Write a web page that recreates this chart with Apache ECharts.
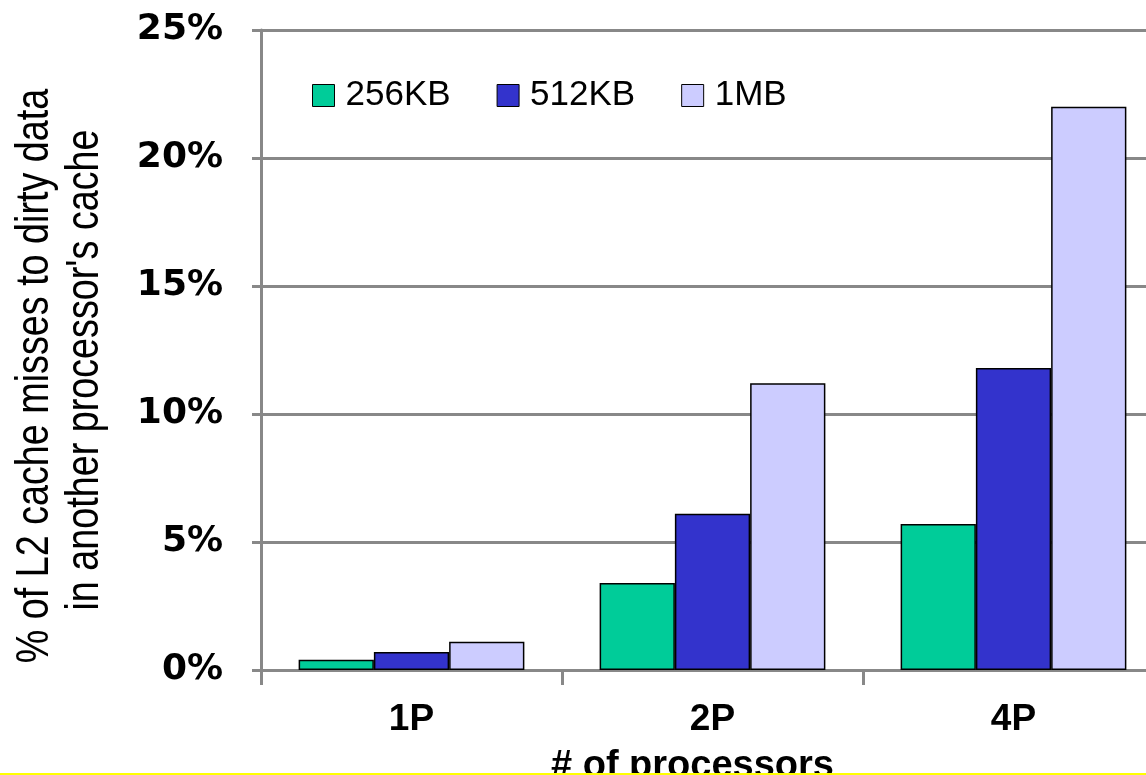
<!DOCTYPE html>
<html>
<head>
<meta charset="utf-8">
<script src="https://cdn.jsdelivr.net/npm/echarts@6/dist/echarts.min.js"></script>
<style>
  html, body { margin: 0; padding: 0; background: #ffffff; }
  #chart { width: 1146px; height: 775px; }
</style>
</head>
<body>
<div id="chart"></div>
<script>
// Processor configurations on the x axis
const categories = ['1P', '2P', '4P'];
// Share of L2 misses served from dirty data in another cache (%)
const l2_256KB = [0.4, 3.4, 5.7];
const l2_512KB = [0.7, 6.1, 11.8];
const l2_1MB = [1.1, 11.2, 22.0];
const seriesNames = ['256KB', '512KB', '1MB'];
const seriesColors = ['#00CC99', '#3333CC', '#CCCCFF'];

const sans = '"Liberation Sans", Arial, sans-serif';
const axisGray = '#888888';

const chart = echarts.init(document.getElementById('chart'), null, { renderer: 'canvas' });

const dataSets = [l2_256KB, l2_512KB, l2_1MB];

// Narrow-looking rotated title line (horizontally condensed text)
function titleLine(text, x, y) {
  return {
    type: 'text',
    x: x,
    y: y,
    rotation: Math.PI / 2,
    scaleX: 0.82,
    style: {
      text: text,
      font: '46px ' + sans,
      fill: '#000000',
      align: 'center',
      verticalAlign: 'middle'
    }
  };
}

chart.setOption({
  animation: false,
  backgroundColor: '#ffffff',
  grid: { left: 261, top: 30, width: 903, height: 640, containLabel: false, outerBoundsMode: 'none' },
  legend: {
    left: 307,
    top: 73,
    icon: 'rect',
    itemWidth: 22,
    itemHeight: 22,
    itemGap: 46,
    itemStyle: { borderColor: '#000000', borderWidth: 1 },
    textStyle: { fontFamily: sans, fontSize: 35, color: '#000000', padding: [0, 0, 0, 6] },
    data: seriesNames
  },
  xAxis: {
    type: 'category',
    data: categories,
    axisLine: { lineStyle: { color: axisGray, width: 3 } },
    axisTick: { show: true, length: 15, lineStyle: { color: axisGray, width: 3 } },
    axisLabel: { margin: 31, color: '#000000', fontFamily: sans, fontWeight: 'bold', fontSize: 37 },
    name: '# of processors',
    nameLocation: 'middle',
    nameGap: 78,
    nameTextStyle: { color: '#000000', fontFamily: sans, fontWeight: 'bold', fontSize: 38, padding: [0, 40, 0, 0] }
  },
  yAxis: {
    type: 'value',
    min: 0,
    max: 25,
    interval: 5,
    axisLine: { show: true, lineStyle: { color: axisGray, width: 3 } },
    axisTick: { show: true, length: 9, lineStyle: { color: axisGray, width: 3 } },
    splitLine: { show: true, lineStyle: { color: axisGray, width: 3 } },
    axisLabel: {
      formatter: '{value}%',
      margin: 38,
      color: '#000000',
      fontFamily: '"DejaVu Sans", Verdana, sans-serif',
      fontWeight: 'bold',
      fontSize: 36
    }
  },
  graphic: [
    titleLine('% of L2 cache misses to dirty data', 35, 376),
    titleLine("in another processor's cache", 85, 370),
    {
      type: 'rect',
      shape: { x: 0, y: 773, width: 1146, height: 2 },
      style: { fill: '#FFFF00' },
      z: 100
    }
  ],
  series: dataSets.map((values, i) => ({
    name: seriesNames[i],
    type: 'bar',
    data: values,
    barGap: '0%',
    barCategoryGap: '25%',
    itemStyle: { color: seriesColors[i], borderColor: '#000000', borderWidth: 1.5 }
  }))
});
</script>
</body>
</html>
